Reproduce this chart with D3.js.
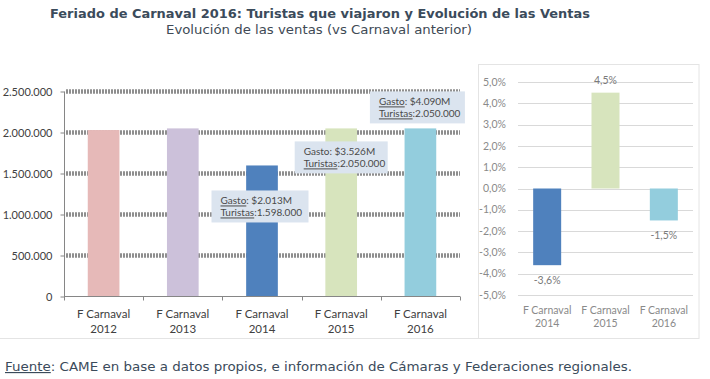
<!DOCTYPE html>
<html><head><meta charset="utf-8">
<script src="https://cdn.jsdelivr.net/npm/d3@7"></script>
<style>body{margin:0;background:#fff}svg{display:block}</style>
</head><body>
<script>
// ---- data ----
const categories = ["F Carnaval 2012","F Carnaval 2013","F Carnaval 2014","F Carnaval 2015","F Carnaval 2016"];
const turistas = [2030000, 2050000, 1598000, 2050000, 2050000];
const barColors = ["#e6b9b8","#ccc1da","#4f81bd","#d7e4bd","#93cddd"];
const yTicksLeft = [0,500000,1000000,1500000,2000000,2500000];
const calloutCats = ["F Carnaval 2014","F Carnaval 2015","F Carnaval 2016"];
const calloutGasto = ["$2.013M","$3.526M","$4.090M"];
const calloutTuristas = ["1.598.000","2.050.000","2.050.000"];
const calloutGastoUnderline = [true,false,true];

const ventasCats = ["F Carnaval 2014","F Carnaval 2015","F Carnaval 2016"];
const ventasValues = [-3.6, 4.5, -1.5];
const ventasColors = ["#4f81bd","#d7e4bd","#93cddd"];
const yTicksRight = [-5,-4,-3,-2,-1,0,1,2,3,4,5];

const title = "Feriado de Carnaval 2016: Turistas que viajaron y Evolución de las Ventas";
const subtitle = "Evolución de las ventas (vs Carnaval anterior)";

const W=710,H=379;
const svg=d3.select("body").append("svg").attr("width",W).attr("height",H);
const fmtTh = d => d===0 ? "0" : d3.format(",")(d).replace(/,/g,".");
const fmtPct = d => d.toFixed(1).replace(".",",")+"%";

// titles
svg.append("text").attr("x",50).attr("y",18).attr("font-family","DejaVu Sans").attr("font-weight","bold")
  .attr("font-size",12.5).attr("fill","#3b4b5b").attr("textLength",540).attr("lengthAdjust","spacingAndGlyphs").text(title);
svg.append("text").attr("x",166).attr("y",34).attr("font-family","DejaVu Sans")
  .attr("font-size",11.5).attr("fill","#404a55").attr("textLength",306).attr("lengthAdjust","spacingAndGlyphs").text(subtitle);

// frames
svg.append("line").attr("x1",0).attr("x2",478).attr("y1",338.5).attr("y2",338.5).attr("stroke","#e4e4e4");
svg.append("rect").attr("x",478.5).attr("y",64.5).attr("width",220.5).attr("height",274).attr("fill","none").attr("stroke","#e4e4e4");

// ---- left chart ----
const xL=d3.scaleBand().domain(categories).range([64,460]).paddingInner(0.6).paddingOuter(0.3);
const yL=d3.scaleLinear().domain([0,2500000]).range([296.5,91.5]);
const gL=svg.append("g");
// gridlines
gL.selectAll(".grid").data(yTicksLeft.filter(d=>d>0)).join("line")
  .attr("x1",66).attr("x2",460).attr("y1",d=>yL(d)).attr("y2",d=>yL(d))
  .attr("stroke","#8e8e8e").attr("stroke-width",4.5).attr("stroke-dasharray","2,1");
// bars
gL.selectAll(".bar").data(categories).join("rect")
  .attr("x",d=>xL(d)).attr("width",xL.bandwidth())
  .attr("y",(d,i)=>yL(turistas[i])).attr("height",(d,i)=>yL(0)-yL(turistas[i]))
  .attr("fill",(d,i)=>barColors[i]);
// y axis
const yAxL=d3.axisLeft(yL).tickValues(yTicksLeft).tickFormat(fmtTh).tickSize(4).tickPadding(8);
const ya=gL.append("g").attr("transform","translate(64.5,0)").call(yAxL);
ya.select(".domain").attr("stroke","#868686").attr("d","M0,91.5V296.5");
ya.selectAll(".tick line").attr("stroke","#868686");
ya.selectAll("text").attr("font-family","Lato").attr("font-size",11).attr("fill","#404040");
// x axis
const xa=gL.append("g").attr("transform","translate(0,296.5)");
xa.append("line").attr("x1",64).attr("x2",460).attr("stroke","#868686");
const bounds=categories.map(c=>xL(c)-xL.step()*xL.paddingInner()/2).concat([460]);
xa.selectAll(".tk").data(bounds).join("line").attr("x1",d=>Math.round(d)+0.5).attr("x2",d=>Math.round(d)+0.5).attr("y1",0).attr("y2",4).attr("stroke","#868686");
const xlab=xa.selectAll(".lab").data(categories).join("text")
  .attr("text-anchor","middle").attr("font-family","Lato").attr("font-size",11.5).attr("fill","#404040");
xlab.append("tspan").attr("x",d=>xL(d)+xL.bandwidth()/2).attr("y",21).text(d=>d.slice(0,10));
xlab.append("tspan").attr("x",d=>xL(d)+xL.bandwidth()/2).attr("y",36).text(d=>d.slice(11));

// callouts
const boxW=[97,93,95], boxOff=[25,13,-37];
calloutCats.forEach((c,i)=>{
  const idx=categories.indexOf(c);
  const cx=xL(c)+xL.bandwidth()/2 + [-2,0,-3][i];
  const top=yL(turistas[idx])+boxOff[i];
  const x0=cx-boxW[i]/2;
  const g=gL.append("g");
  g.append("rect").attr("x",x0).attr("y",top).attr("width",boxW[i]).attr("height",32).attr("fill","#dbe4ef");
  const t1=g.append("text").attr("x",x0+9).attr("y",top+14).attr("font-family","Lato").attr("font-size",10).attr("fill","#4a4a4a");
  t1.append("tspan").attr("text-decoration",calloutGastoUnderline[i]?"underline":null).text("Gasto");
  t1.append("tspan").text(": "+calloutGasto[i]);
  const t2=g.append("text").attr("x",x0+9).attr("y",top+26).attr("font-family","Lato").attr("font-size",10).attr("fill","#4a4a4a");
  t2.append("tspan").attr("text-decoration","underline").text("Turistas");
  t2.append("tspan").text(":"+calloutTuristas[i]);
});

// ---- right chart ----
const xR=d3.scaleBand().domain(ventasCats).range([518,693]).paddingInner(0.52).paddingOuter(0.26);
const yR=d3.scaleLinear().domain([-5,5]).range([295,82]);
const gR=svg.append("g");
gR.selectAll(".grid").data(yTicksRight).join("line")
  .attr("x1",518).attr("x2",693).attr("y1",d=>Math.round(yR(d))+0.5).attr("y2",d=>Math.round(yR(d))+0.5)
  .attr("stroke","#d9d9d9");
gR.selectAll(".tl").data(yTicksRight).join("text").attr("x",506).attr("y",d=>yR(d)).attr("dy","0.35em")
  .attr("text-anchor","end").attr("font-family","Lato").attr("font-size",10.5).attr("fill","#8a8a8a").text(fmtPct);
gR.selectAll(".bar").data(ventasCats).join("rect")
  .attr("x",d=>xR(d)).attr("width",xR.bandwidth())
  .attr("y",(d,i)=>yR(Math.max(0,ventasValues[i]))).attr("height",(d,i)=>Math.abs(yR(ventasValues[i])-yR(0)))
  .attr("fill",(d,i)=>ventasColors[i]);
gR.selectAll(".vl").data(ventasCats).join("text")
  .attr("x",d=>xR(d)+xR.bandwidth()/2).attr("y",(d,i)=>ventasValues[i]>=0?yR(ventasValues[i])-12:yR(ventasValues[i])+15)
  .attr("dy","0.35em").attr("text-anchor","middle").attr("font-family","Lato").attr("font-size",10.5).attr("fill","#7a7a7a")
  .text((d,i)=>fmtPct(ventasValues[i]));
const rl=gR.selectAll(".cl").data(ventasCats).join("text").attr("text-anchor","middle")
  .attr("font-family","Lato").attr("font-size",10.5).attr("fill","#8a8a8a");
rl.append("tspan").attr("x",d=>xR(d)+xR.bandwidth()/2).attr("y",314).text(d=>d.slice(0,10));
rl.append("tspan").attr("x",d=>xR(d)+xR.bandwidth()/2).attr("y",327).text(d=>d.slice(11));

// footer
const ft=svg.append("text").attr("x",5).attr("y",371).attr("font-family","DejaVu Sans").attr("font-size",11.5)
  .attr("fill","#3b4b5b").attr("textLength",627).attr("lengthAdjust","spacingAndGlyphs");
ft.append("tspan").attr("text-decoration","underline").text("Fuente");
ft.append("tspan").text(": CAME en base a datos propios, e información de Cámaras y Federaciones regionales.");
</script>
</body></html>
